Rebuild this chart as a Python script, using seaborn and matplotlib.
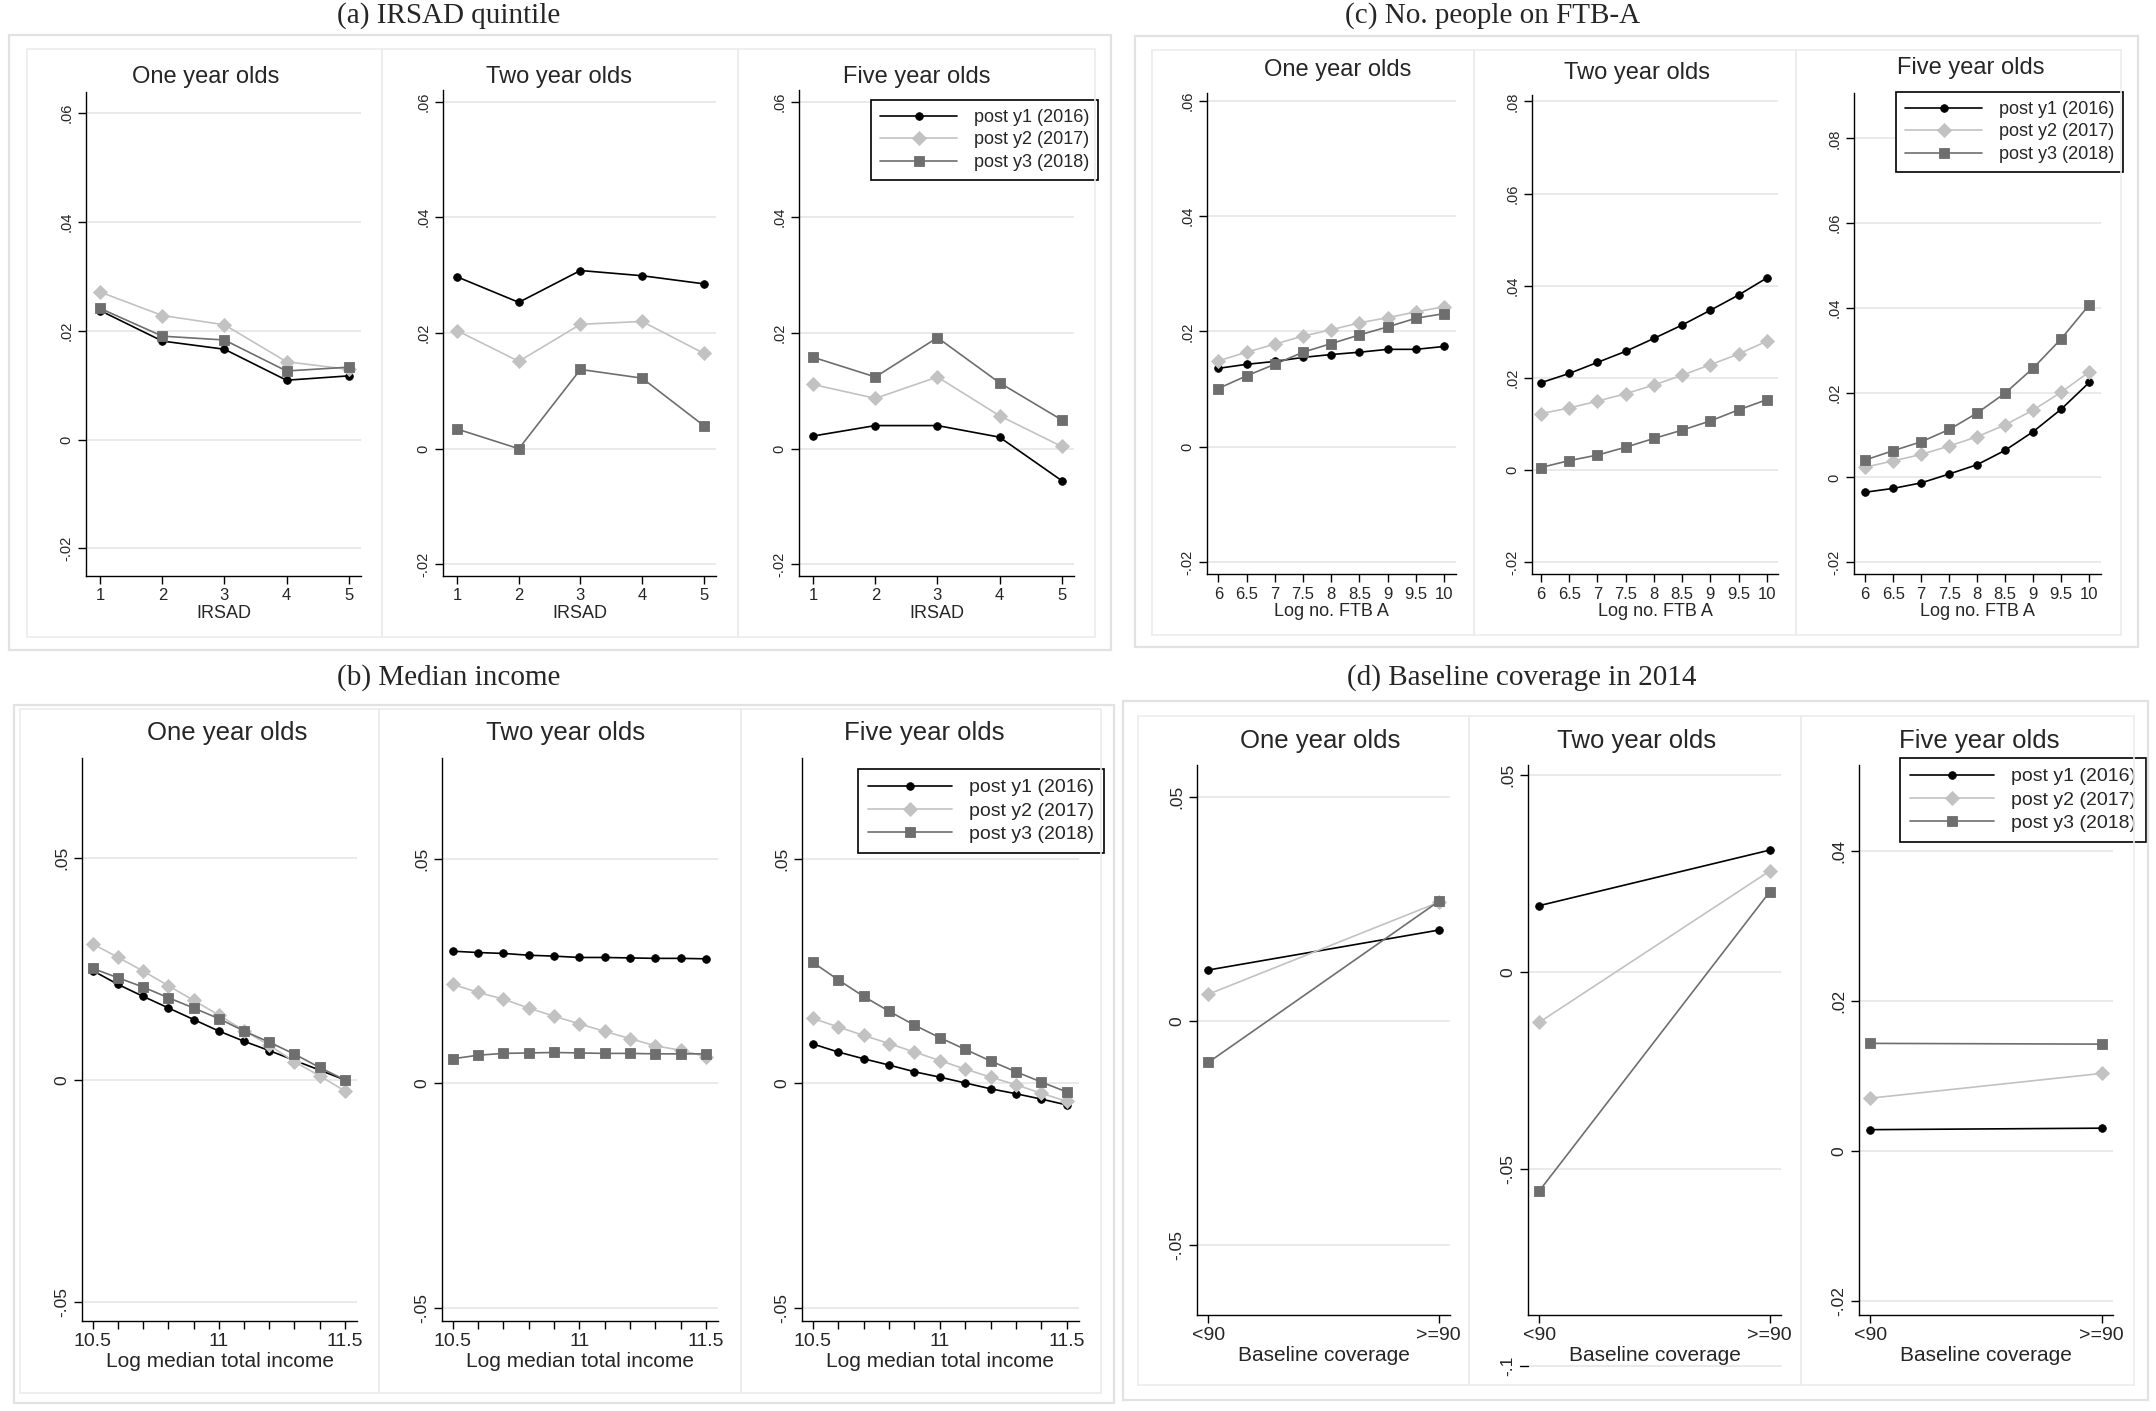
import matplotlib
matplotlib.use("Agg")
import matplotlib.pyplot as plt
from matplotlib.patches import Rectangle
from matplotlib.lines import Line2D
from matplotlib.ticker import FixedLocator, FuncFormatter
import seaborn as sns

series_names = ["post y1 (2016)", "post y2 (2017)", "post y3 (2018)"]
ages = ["One year olds", "Two year olds", "Five year olds"]

# (a) IRSAD quintile
irsad_x = [1, 2, 3, 4, 5]
irsad_one_y1 = [0.0237, 0.0181, 0.0166, 0.0109, 0.0117]
irsad_one_y2 = [0.0271, 0.0228, 0.0211, 0.0143, 0.0129]
irsad_one_y3 = [0.0241, 0.0190, 0.0183, 0.0126, 0.0133]
irsad_two_y1 = [0.0297, 0.0253, 0.0308, 0.0299, 0.0285]
irsad_two_y2 = [0.0204, 0.0151, 0.0215, 0.0220, 0.0165]
irsad_two_y3 = [0.0034, 0.0000, 0.0137, 0.0122, 0.0040]
irsad_five_y1 = [0.0022, 0.0040, 0.0040, 0.0020, -0.0055]
irsad_five_y2 = [0.0111, 0.0087, 0.0124, 0.0057, 0.0004]
irsad_five_y3 = [0.0158, 0.0124, 0.0192, 0.0114, 0.0050]

# (b) Median income
income_x = [10.5, 10.6, 10.7, 10.8, 10.9, 11.0, 11.1, 11.2, 11.3, 11.4, 11.5]
inc_one_y1 = [0.0246, 0.0215, 0.0188, 0.0162, 0.0136, 0.0110, 0.0087, 0.0066, 0.0044, 0.0022, 0.0000]
inc_one_y2 = [0.0306, 0.0276, 0.0245, 0.0212, 0.0179, 0.0146, 0.0111, 0.0078, 0.0041, 0.0009, -0.0025]
inc_one_y3 = [0.0251, 0.0230, 0.0209, 0.0185, 0.0162, 0.0138, 0.0110, 0.0085, 0.0058, 0.0028, 0.0000]
inc_two_y1 = [0.0295, 0.0292, 0.0290, 0.0286, 0.0284, 0.0281, 0.0281, 0.0280, 0.0279, 0.0279, 0.0278]
inc_two_y2 = [0.0221, 0.0203, 0.0188, 0.0168, 0.0150, 0.0133, 0.0116, 0.0100, 0.0084, 0.0074, 0.0060]
inc_two_y3 = [0.0055, 0.0063, 0.0067, 0.0068, 0.0069, 0.0068, 0.0067, 0.0067, 0.0066, 0.0066, 0.0066]
inc_five_y1 = [0.0088, 0.0070, 0.0055, 0.0041, 0.0026, 0.0014, 0.0001, -0.0012, -0.0023, -0.0035, -0.0048]
inc_five_y2 = [0.0145, 0.0126, 0.0107, 0.0089, 0.0070, 0.0051, 0.0032, 0.0014, -0.0003, -0.0022, -0.0040]
inc_five_y3 = [0.0270, 0.0231, 0.0194, 0.0161, 0.0130, 0.0102, 0.0076, 0.0050, 0.0026, 0.0003, -0.0019]

# (c) No. people on FTB-A
ftb_x = [6, 6.5, 7, 7.5, 8, 8.5, 9, 9.5, 10]
ftb_one_y1 = [0.0136, 0.0143, 0.0148, 0.0155, 0.0160, 0.0164, 0.0169, 0.0169, 0.0174]
ftb_one_y2 = [0.0149, 0.0164, 0.0178, 0.0192, 0.0203, 0.0215, 0.0224, 0.0234, 0.0243]
ftb_one_y3 = [0.0101, 0.0123, 0.0143, 0.0164, 0.0179, 0.0194, 0.0208, 0.0223, 0.0231]
ftb_two_y1 = [0.0190, 0.0210, 0.0234, 0.0258, 0.0286, 0.0315, 0.0347, 0.0380, 0.0417]
ftb_two_y2 = [0.0123, 0.0135, 0.0150, 0.0166, 0.0185, 0.0206, 0.0229, 0.0252, 0.0280]
ftb_two_y3 = [0.0006, 0.0021, 0.0033, 0.0050, 0.0069, 0.0087, 0.0107, 0.0131, 0.0153]
ftb_five_y1 = [-0.0035, -0.0026, -0.0013, 0.0008, 0.0030, 0.0064, 0.0108, 0.0161, 0.0224]
ftb_five_y2 = [0.0024, 0.0039, 0.0054, 0.0074, 0.0096, 0.0124, 0.0159, 0.0201, 0.0249]
ftb_five_y3 = [0.0041, 0.0063, 0.0084, 0.0113, 0.0152, 0.0199, 0.0258, 0.0327, 0.0407]

# (d) Baseline coverage in 2014
base_x = ["<90", ">=90"]
base_one_y1 = [0.0114, 0.0203]
base_one_y2 = [0.0060, 0.0265]
base_one_y3 = [-0.0092, 0.0267]
base_two_y1 = [0.0169, 0.0310]
base_two_y2 = [-0.0127, 0.0257]
base_two_y3 = [-0.0555, 0.0204]
base_five_y1 = [0.0029, 0.0031]
base_five_y2 = [0.0071, 0.0104]
base_five_y3 = [0.0144, 0.0143]

colors = ["#000000", "#c2c2c2", "#6e6e6e"]
markers = ["o", "D", "s"]
msizes = [5.5, 7, 6.5]
grid_c = "#e8e8e8"
box_c = "#e2e2e2"

sns.set_style("white")
plt.rcParams["font.family"] = ["Liberation Sans", "DejaVu Sans"]

W, H = 2156, 1411
fig = plt.figure(figsize=(W / 100, H / 100), dpi=100)


def stata_fmt(v, pos=None):
    s = f"{v:g}"
    if s.startswith("0."):
        s = s[1:]
    elif s.startswith("-0."):
        s = "-" + s[2:]
    return s


def box(x0, y0, x1, y1, c=box_c, lw=1.6):
    fig.add_artist(Rectangle((x0 / W, 1 - y1 / H), (x1 - x0) / W, (y1 - y0) / H,
                             transform=fig.transFigure, fill=False, edgecolor=c, lw=lw))


def subplot(rect, x, ys, xlim, ylim, yticks, xticks, xticklabels, xlabel, fs, minor=None):
    l, t, r, b = rect
    ax = fig.add_axes([l / W, 1 - b / H, (r - l) / W, (b - t) / H])
    ax.set_facecolor("none")
    for yv, c, m, ms in zip(ys, colors, markers, msizes):
        sns.lineplot(x=x, y=yv, ax=ax, color=c, marker=m, markersize=ms, linewidth=1.2,
                     markeredgecolor=c, markeredgewidth=0.6, sort=False, errorbar=None)
    ax.set_xlim(*xlim)
    ax.set_ylim(*ylim)
    ax.yaxis.set_major_locator(FixedLocator(yticks))
    ax.yaxis.set_major_formatter(FuncFormatter(stata_fmt))
    if xticks is not None:
        ax.set_xticks(xticks)
        ax.set_xticklabels(xticklabels)
    if minor is not None:
        ax.xaxis.set_minor_locator(FixedLocator(minor))
        ax.tick_params(axis="x", which="minor", length=6, width=1, color="black", direction="out", bottom=True)
    ax.grid(False)
    ax.yaxis.grid(True, color=grid_c, lw=1.3)
    ax.set_axisbelow(True)
    for s in ["top", "right"]:
        ax.spines[s].set_visible(False)
    for s in ["left", "bottom"]:
        ax.spines[s].set_color("black")
        ax.spines[s].set_linewidth(1.0)
    ax.tick_params(axis="both", which="major", length=6, width=1, color="black",
                   direction="out", left=True, bottom=True, pad=3)
    ax.tick_params(axis="y", labelsize=fs["ytick"], labelrotation=90)
    ax.tick_params(axis="x", labelsize=fs["xtick"])
    for lab in ax.get_yticklabels():
        lab.set_va("center")
    ax.set_xlabel(xlabel, fontsize=fs["xlabel"], labelpad=1)
    ax.set_ylabel("")
    return ax


def add_legend(ax, xr, yt, fsize):
    handles = [Line2D([0], [0], color=c, marker=m, markersize=ms, lw=1.2,
                      markeredgecolor=c, markeredgewidth=0.6)
               for c, m, ms in zip(colors, markers, msizes)]
    leg = ax.legend(handles, series_names, loc="upper right", bbox_to_anchor=(xr / W, 1 - yt / H),
                    bbox_transform=fig.transFigure, frameon=True, fancybox=False, borderaxespad=0,
                    handlelength=4.3, handletextpad=0.9, labelspacing=0.3, borderpad=0.5, fontsize=fsize)
    leg.get_frame().set_edgecolor("black")
    leg.get_frame().set_linewidth(1.2)
    leg.get_frame().set_alpha(1)


fs_small = {"title": 17, "ytick": 10.5, "xtick": 12, "xlabel": 13, "legend": 13}
fs_big = {"title": 18.5, "ytick": 12.5, "xtick": 14, "xlabel": 15, "legend": 14}

# ---------------- (a) IRSAD quintile
fig.text(449 / W, 1 - 23 / H, "(a) IRSAD quintile", ha="center", va="baseline",
         fontsize=21, family="Liberation Serif")
box(9, 35, 1111, 650)
for x0, x1 in [(27, 382), (382, 738), (738, 1095)]:
    box(x0, 49, x1, 637, c="#ececec", lw=1.2)
a_ys = [[irsad_one_y1, irsad_one_y2, irsad_one_y3],
        [irsad_two_y1, irsad_two_y2, irsad_two_y3],
        [irsad_five_y1, irsad_five_y2, irsad_five_y3]]
a_rects = [(86, 92, 361, 576), (443, 90, 716, 576), (799, 90, 1074, 576)]
a_ylims = [(-0.0251, 0.0639), (-0.022, 0.062), (-0.022, 0.062)]
a_tx = [206, 559, 917]
for i in range(3):
    ax = subplot(a_rects[i], irsad_x, a_ys[i], (0.77, 5.2), a_ylims[i],
                 [-0.02, 0, 0.02, 0.04, 0.06], irsad_x, [str(v) for v in irsad_x], "IRSAD", fs_small)
    fig.text(a_tx[i] / W, 1 - 77 / H, ages[i], ha="center", va="center", fontsize=fs_small["title"])
    if i == 2:
        add_legend(ax, 1098, 100, fs_small["legend"])

# ---------------- (c) No. people on FTB-A
fig.text(1493 / W, 1 - 23 / H, "(c) No. people on FTB-A", ha="center", va="baseline",
         fontsize=21, family="Liberation Serif")
box(1135, 36, 2138, 647)
for x0, x1 in [(1152, 1474), (1474, 1796), (1796, 2121)]:
    box(x0, 50, x1, 635, c="#ececec", lw=1.2)
c_ys = [[ftb_one_y1, ftb_one_y2, ftb_one_y3],
        [ftb_two_y1, ftb_two_y2, ftb_two_y3],
        [ftb_five_y1, ftb_five_y2, ftb_five_y3]]
c_rects = [(1207, 93, 1456, 574), (1532, 95, 1778, 574), (1854, 93, 2101, 574)]
c_ylims = [(-0.0221, 0.0614), (-0.0225, 0.0814), (-0.0228, 0.0907)]
c_yticks = [[-0.02, 0, 0.02, 0.04, 0.06], [-0.02, 0, 0.02, 0.04, 0.06, 0.08],
            [-0.02, 0, 0.02, 0.04, 0.06, 0.08]]
c_xlims = [(5.8, 10.21), (5.84, 10.2), (5.8, 10.21)]
c_tx = [(1338, 70), (1637, 73), (1971, 68)]
for i in range(3):
    ax = subplot(c_rects[i], ftb_x, c_ys[i], c_xlims[i], c_ylims[i], c_yticks[i],
                 ftb_x, [f"{v:g}" for v in ftb_x], "Log no. FTB A", fs_small)
    fig.text(c_tx[i][0] / W, 1 - c_tx[i][1] / H, ages[i], ha="center", va="center",
             fontsize=fs_small["title"])
    if i == 2:
        add_legend(ax, 2123, 92, fs_small["legend"])

# ---------------- (b) Median income
fig.text(449 / W, 1 - 685 / H, "(b) Median income", ha="center", va="baseline",
         fontsize=21, family="Liberation Serif")
box(14, 705, 1114, 1403)
for x0, x1 in [(20, 379), (379, 741), (741, 1101)]:
    box(x0, 709, x1, 1393, c="#ececec", lw=1.2)
b_ys = [[inc_one_y1, inc_one_y2, inc_one_y3],
        [inc_two_y1, inc_two_y2, inc_two_y3],
        [inc_five_y1, inc_five_y2, inc_five_y3]]
b_rects = [(82, 758, 357, 1321), (442, 758, 718, 1321), (802, 758, 1079, 1321)]
b_ylims = [(-0.0543, 0.0725), (-0.053, 0.0726), (-0.053, 0.0726)]
b_tx = [227, 566, 924]
for i in range(3):
    ax = subplot(b_rects[i], income_x, b_ys[i], (10.457, 11.548), b_ylims[i],
                 [-0.05, 0, 0.05], [10.5, 11, 11.5], ["10.5", "11", "11.5"],
                 "Log median total income", fs_big, minor=income_x)
    fig.text(b_tx[i] / W, 1 - 733 / H, ages[i], ha="center", va="center", fontsize=fs_big["title"])
    if i == 2:
        add_legend(ax, 1104, 769, fs_big["legend"])

# ---------------- (d) Baseline coverage in 2014
fig.text(1522 / W, 1 - 685 / H, "(d) Baseline coverage in 2014", ha="center", va="baseline",
         fontsize=21, family="Liberation Serif")
box(1123, 701, 2148, 1400)
for x0, x1 in [(1138, 1469), (1469, 1801), (1801, 2134)]:
    box(x0, 716, x1, 1385, c="#ececec", lw=1.2)
d_ys = [[base_one_y1, base_one_y2, base_one_y3],
        [base_two_y1, base_two_y2, base_two_y3],
        [base_five_y1, base_five_y2, base_five_y3]]
d_rects = [(1197, 765, 1450, 1315), (1528, 765, 1781, 1315), (1859, 765, 2113, 1315)]
d_ylims = [(-0.0655, 0.0571), (-0.087, 0.0526), (-0.0218, 0.0515)]
d_yticks = [[-0.05, 0, 0.05], [-0.05, 0, 0.05], [-0.02, 0, 0.02, 0.04]]
d_tx = [1320, 1637, 1979]
for i in range(3):
    ax = subplot(d_rects[i], base_x, d_ys[i], (-0.049, 1.049), d_ylims[i], d_yticks[i],
                 None, None, "Baseline coverage", fs_big)
    fig.text(d_tx[i] / W, 1 - 741 / H, ages[i], ha="center", va="center", fontsize=fs_big["title"])
    if i == 1:
        # Stata puts the -.1 tick below the plot region
        tr = ax.get_yaxis_transform()
        ax.plot([0, 1], [-0.1, -0.1], transform=tr, color=grid_c, lw=1.3, clip_on=False)
        ax.plot([-0.03, 0], [-0.1, -0.1], transform=tr, color="black", lw=1, clip_on=False)
        ax.text(-0.05, -0.1, stata_fmt(-0.1), transform=tr, rotation=90, ha="right", va="center",
                fontsize=fs_big["ytick"], clip_on=False)
    if i == 2:
        add_legend(ax, 2146, 758, fs_big["legend"])

fig.savefig("out.png", dpi=100, facecolor="white")
